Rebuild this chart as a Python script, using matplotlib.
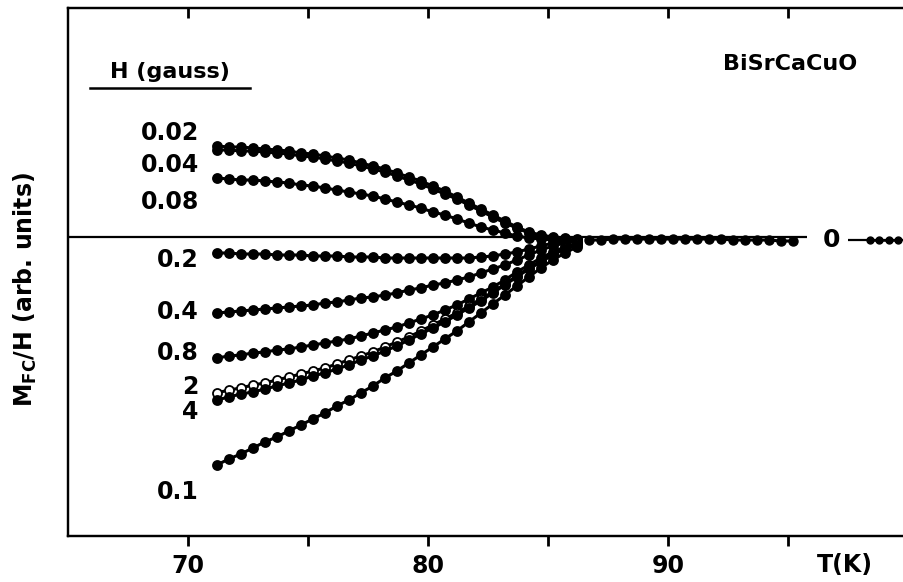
import matplotlib
matplotlib.use("Agg")
import matplotlib.pyplot as plt
from matplotlib.lines import Line2D
import numpy as np

plt.rcParams['font.family'] = ['DejaVu Sans']
plt.rcParams['font.weight'] = 'bold'
plt.rcParams['mathtext.default'] = 'bf'

# temperature grid of the measured points (K)
temps = [71.2, 71.7, 72.2, 72.7, 73.2, 73.7, 74.2, 74.7, 75.2, 75.7, 76.2,
         76.7, 77.2, 77.7, 78.2, 78.7, 79.2, 79.7, 80.2, 80.7, 81.2, 81.7,
         82.2, 82.7, 83.2, 83.7, 84.2, 84.7, 85.2, 85.7, 86.2]

# M_FC/H (arb. units) for each field
m_002 = [0.91, 0.90, 0.90, 0.89, 0.88, 0.87, 0.86, 0.84, 0.83, 0.81, 0.79,
         0.77, 0.74, 0.71, 0.68, 0.64, 0.60, 0.56, 0.51, 0.46, 0.40, 0.34,
         0.28, 0.22, 0.16, 0.10, 0.05, 0.02, 0.00, -0.01, -0.02]
m_004 = [0.87, 0.87, 0.86, 0.86, 0.85, 0.84, 0.83, 0.81, 0.80, 0.78, 0.76,
         0.74, 0.71, 0.68, 0.65, 0.61, 0.57, 0.53, 0.48, 0.43, 0.38, 0.32,
         0.26, 0.20, 0.14, 0.09, 0.04, 0.01, -0.01, -0.02, -0.03]
m_008 = [0.59, 0.58, 0.57, 0.57, 0.56, 0.55, 0.54, 0.52, 0.51, 0.49, 0.47,
         0.45, 0.43, 0.41, 0.38, 0.35, 0.32, 0.29, 0.25, 0.22, 0.18, 0.14,
         0.10, 0.07, 0.04, 0.01, -0.01, -0.02, -0.03, -0.03, -0.03]
m_02 = [-0.16, -0.16, -0.17, -0.17, -0.17, -0.18, -0.18, -0.18, -0.19, -0.19,
        -0.19, -0.20, -0.20, -0.20, -0.21, -0.21, -0.21, -0.21, -0.21, -0.21,
        -0.21, -0.21, -0.20, -0.19, -0.17, -0.15, -0.12, -0.09, -0.06, -0.04,
        -0.03]
m_04 = [-0.76, -0.75, -0.74, -0.73, -0.72, -0.71, -0.70, -0.69, -0.68, -0.66,
        -0.65, -0.63, -0.61, -0.60, -0.58, -0.56, -0.53, -0.51, -0.48, -0.46,
        -0.43, -0.40, -0.36, -0.32, -0.28, -0.23, -0.18, -0.13, -0.09, -0.06,
        -0.04]
m_08 = [-1.21, -1.19, -1.18, -1.16, -1.15, -1.13, -1.12, -1.10, -1.08, -1.06,
        -1.04, -1.02, -0.99, -0.96, -0.93, -0.90, -0.86, -0.82, -0.78, -0.73,
        -0.68, -0.62, -0.56, -0.50, -0.43, -0.35, -0.28, -0.21, -0.15, -0.10,
        -0.06]
m_2 = [-1.56, -1.53, -1.51, -1.48, -1.46, -1.43, -1.40, -1.37, -1.34, -1.31,
       -1.27, -1.23, -1.19, -1.15, -1.10, -1.05, -1.00, -0.94, -0.88, -0.82,
       -0.76, -0.69, -0.62, -0.55, -0.47, -0.39, -0.31, -0.24, -0.17, -0.11,
       -0.07]
m_4 = [-1.63, -1.60, -1.57, -1.55, -1.52, -1.49, -1.46, -1.43, -1.39, -1.36,
       -1.32, -1.28, -1.23, -1.19, -1.14, -1.09, -1.03, -0.97, -0.91, -0.85,
       -0.78, -0.71, -0.64, -0.56, -0.48, -0.40, -0.32, -0.25, -0.18, -0.12,
       -0.08]
m_01 = [-2.28, -2.22, -2.17, -2.11, -2.05, -2.00, -1.94, -1.88, -1.82, -1.76,
        -1.69, -1.63, -1.56, -1.49, -1.41, -1.34, -1.26, -1.18, -1.10, -1.02,
        -0.94, -0.85, -0.76, -0.67, -0.58, -0.49, -0.40, -0.31, -0.23, -0.16,
        -0.10]

# common tail above Tc where all fields coincide
tail_T = [86.7, 87.2, 87.7, 88.2, 88.7, 89.2, 89.7, 90.2, 90.7, 91.2, 91.7,
          92.2, 92.7, 93.2, 93.7, 94.2, 94.7, 95.2]
tail_m = [-0.03, -0.03, -0.02, -0.02, -0.02, -0.02, -0.02, -0.02, -0.02,
          -0.02, -0.02, -0.02, -0.03, -0.03, -0.03, -0.03, -0.04, -0.04]

# zero field points right of the "0" label
zero_T = [98.4, 98.8, 99.2, 99.6]
zero_m = [-0.03, -0.03, -0.03, -0.03]

fields = ['0.02', '0.04', '0.08', '0.2', '0.4', '0.8', '2', '4', '0.1']
series = [m_002, m_004, m_008, m_02, m_04, m_08, m_2, m_4, m_01]
label_y = [1.04, 0.72, 0.35, -0.23, -0.75, -1.16, -1.50, -1.75, -2.55]

W, H = 904, 582
fig = plt.figure(figsize=(W / 100, H / 100), dpi=100)
ax = fig.add_axes([68 / W, 1 - 536 / H, (908 - 68) / W, (536 - 8) / H])
ax.set_xlim(65, 100)
ax.set_ylim(-2.99, 2.29)

for f, m in zip(fields, series):
    face = 'white' if f == '2' else 'black'
    ax.plot(temps, m, '-', color='black', lw=2.2, marker='o', ms=6.5,
            mfc=face, mec='black', mew=1.3, clip_on=False)

ax.plot(tail_T, tail_m, '-', color='black', lw=2.2, marker='o', ms=6.5,
        mfc='black', mec='black')
ax.plot(zero_T, zero_m, '-', color='black', lw=1.8, marker='o', ms=5,
        mfc='black', mec='black')

# zero reference line with inline "0"
ax.hlines(0, 65, 95.8, color='black', lw=1.6)
ax.hlines(-0.03, 97.5, 100, color='black', lw=1.6)
ax.text(96.8, -0.03, '0', fontsize=18, ha='center', va='center')

for f, ly in zip(fields, label_y):
    ax.text(70.45, ly, f, fontsize=17, ha='right', va='center')

for s in ax.spines.values():
    s.set_linewidth(1.6)

ax.set_xticks([70, 80, 90])
ax.set_xticklabels(['70', '80', '90'])
ax.set_xticks([75, 85, 95], minor=True)
ax.tick_params(axis='x', which='both', direction='out', length=7, width=2,
               labelsize=17, pad=6)
ax.set_yticks([])

# top axis ticks point into the plot
top = ax.twiny()
top.set_xlim(ax.get_xlim())
top.set_xticks([70, 75, 80, 85, 90, 95])
top.tick_params(axis='x', which='major', direction='in', length=7, width=2,
                labeltop=False)
for s in top.spines.values():
    s.set_linewidth(1.6)

fig.text(845 / W, 1 - 565 / H, 'T(K)', fontsize=17, ha='center', va='center')
fig.text(170 / W, 1 - 72 / H, 'H (gauss)', fontsize=16, ha='center',
         va='center')
fig.add_artist(Line2D([90 / W, 250 / W], [1 - 88 / H, 1 - 88 / H],
                      color='black', lw=1.8))
fig.text(790 / W, 1 - 64 / H, 'BiSrCaCuO', fontsize=16, ha='center',
         va='center')
fig.text(25 / W, 1 - 290 / H, r'$M_{FC}$/H (arb. units)', fontsize=17,
         rotation=90, ha='center', va='center')

fig.savefig('out.png', dpi=100)
